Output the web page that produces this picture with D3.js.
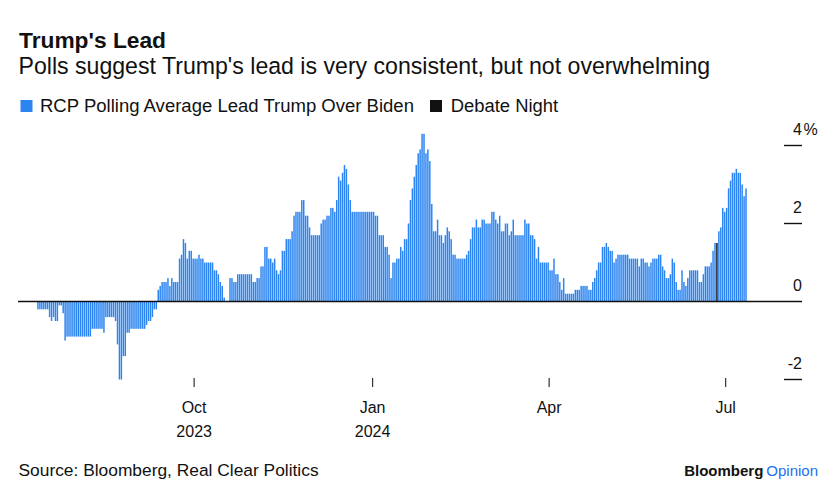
<!DOCTYPE html>
<html>
<head>
<meta charset="utf-8">
<script src="https://cdn.jsdelivr.net/npm/d3@7"></script>
<style>
  html, body { margin: 0; padding: 0; background: #fff; }
  svg { display: block; }
  text { font-family: "Liberation Sans", Arial, Helvetica, sans-serif; fill: #111; }
</style>
</head>
<body>
<svg id="chart" width="836" height="498"></svg>
<script>
// ---------------- DATA ----------------
const titleText = "Trump's Lead";
const subtitleText = "Polls suggest Trump's lead is very consistent, but not overwhelming";
const seriesName = "RCP Polling Average Lead Trump Over Biden";
const debateName = "Debate Night";
const sourceText = "Source: Bloomberg, Real Clear Politics";

// first day of the daily series
const startDate = "2023-07-12";
// RCP polling average lead, Trump over Biden (percentage points), one value per day
const leadValues = [
  -0.2,-0.2,-0.2,-0.2,-0.2,-0.2,-0.4,-0.5,-0.4,-0.5,
  -0.5,-0.1,-0.1,-0.3,-1.0,-0.9,-0.9,-0.9,-0.9,-0.9,
  -0.9,-0.9,-0.9,-0.9,-0.9,-0.9,-0.9,-0.9,-0.7,-0.7,
  -0.7,-0.7,-0.7,-0.7,-0.8,-0.4,-0.4,-0.4,-0.4,-0.4,
  -0.5,-1.1,-2.0,-2.0,-1.4,-1.4,-0.8,-0.8,-0.7,-0.7,
  -0.7,-0.7,-0.7,-0.7,-0.7,-0.7,-0.6,-0.5,-0.5,-0.4,
  -0.2,-0.2,0.3,0.4,0.5,0.5,0.5,0.6,0.4,0.6,
  0.5,0.5,0.5,1.1,1.2,1.6,1.5,1.1,1.3,1.3,
  1.1,1.1,1.1,1.2,1.1,1.1,1.0,1.0,1.0,1.0,
  1.0,0.8,0.8,0.7,0.5,0.4,0.1,0.0,0.0,0.6,
  0.6,0.5,0.5,0.7,0.7,0.7,0.7,0.7,0.7,0.7,
  0.7,0.5,0.5,0.6,0.6,0.9,0.9,1.4,1.4,1.1,
  1.1,1.0,1.1,0.8,0.7,0.8,1.3,1.3,1.6,1.6,
  1.6,1.8,2.2,2.3,2.3,2.3,2.6,2.6,2.2,2.2,
  1.9,1.7,1.7,1.7,1.7,1.7,2.0,2.1,2.1,2.2,
  2.2,2.4,2.4,2.3,2.6,3.2,3.1,3.3,3.5,3.4,
  3.0,2.6,2.3,2.3,2.3,2.3,2.3,2.3,2.3,2.3,
  2.3,2.3,2.3,2.3,2.2,2.2,1.7,1.7,1.7,1.4,
  1.4,1.2,0.6,1.0,1.0,1.1,1.1,1.4,1.3,1.6,
  1.6,2.0,2.6,2.9,3.2,3.5,3.8,3.9,4.3,4.3,
  3.8,3.9,3.6,2.5,1.8,1.8,2.1,1.7,1.7,1.5,
  1.7,1.9,1.8,1.6,1.2,1.2,1.1,1.1,1.1,1.1,
  1.1,1.2,1.3,1.6,1.9,1.9,2.1,1.9,1.9,2.1,
  2.1,2.0,2.0,2.0,2.3,2.3,2.1,2.0,2.2,1.8,
  1.8,2.0,2.0,1.7,1.8,2.1,1.7,1.7,1.7,1.7,
  1.7,2.1,2.0,2.0,1.7,1.7,1.6,1.1,1.4,1.0,
  1.0,1.0,1.0,1.0,0.8,0.8,1.1,0.7,0.7,0.5,
  0.3,0.6,0.2,0.2,0.2,0.2,0.2,0.3,0.3,0.3,
  0.4,0.4,0.4,0.4,0.3,0.3,0.5,0.6,0.8,1.0,
  1.0,1.4,1.4,1.5,1.4,1.3,1.3,1.0,1.1,1.2,
  1.2,1.2,1.2,1.2,1.2,1.1,1.1,1.1,1.1,1.1,
  0.9,1.1,1.1,1.0,1.0,0.9,1.0,1.1,1.1,1.1,
  1.2,1.2,0.9,0.8,0.6,0.6,0.7,1.1,1.0,0.5,
  0.3,0.3,0.8,0.5,0.4,0.6,0.8,0.8,0.8,0.8,
  0.8,0.5,0.5,0.7,0.9,0.9,0.9,1.0,1.3,1.5,
  1.5,1.8,1.9,2.4,2.3,2.4,2.9,3.1,3.3,3.3,
  3.4,3.3,3.3,3.0,2.7,2.9
];
const debateDate = "2024-06-26";

const yTickValues = [-2, 0, 2, 4];
const xTickDates = ["2023-10-01", "2024-01-01", "2024-04-01", "2024-07-01"];
const xTickLabels = [["Oct", "2023"], ["Jan", "2024"], ["Apr", ""], ["Jul", ""]];

// ---------------- STYLE ----------------
const BLUE = "#2b84f0";
const BLACK = "#111";

// ---------------- BUILD ----------------
const parse = d3.utcParse("%Y-%m-%d");
const start = parse(startDate);
const days = d3.utcDay.range(start, d3.utcDay.offset(start, leadValues.length));
const data = days.map((d, i) => ({ date: d, value: leadValues[i] }));
const debate = parse(debateDate);

const svg = d3.select("#chart");

const x = d3.scaleUtc()
  .domain([start, d3.utcDay.offset(start, leadValues.length)])
  .range([37, 747]);
const y = d3.scaleLinear().domain([-2, 4]).range([379.5, 145.5]);

const dayW = x(d3.utcDay.offset(start, 1)) - x(start);
const barW = dayW * 0.76;

function fitWidth(sel, w) {
  const n = sel.node();
  const cur = n.getComputedTextLength();
  const fs = parseFloat(sel.attr("font-size"));
  if (cur > 0) sel.attr("font-size", (fs * w / cur).toFixed(2));
  return sel;
}

// Title & subtitle
fitWidth(svg.append("text").attr("x", 19).attr("y", 47.5)
  .attr("font-size", 22).attr("font-weight", "bold").text(titleText), 147);
fitWidth(svg.append("text").attr("x", 18.5).attr("y", 74)
  .attr("font-size", 21).text(subtitleText), 692);

// Legend
svg.append("rect").attr("x", 20.5).attr("y", 100).attr("width", 12).attr("height", 12).attr("fill", BLUE);
fitWidth(svg.append("text").attr("x", 40).attr("y", 111.7)
  .attr("font-size", 16).text(seriesName), 374);
svg.append("rect").attr("x", 430).attr("y", 100).attr("width", 12).attr("height", 12).attr("fill", BLACK);
fitWidth(svg.append("text").attr("x", 450.7).attr("y", 111.7)
  .attr("font-size", 16).text(debateName), 107.5);

// Bars
svg.append("g").selectAll("rect")
  .data(data)
  .join("rect")
  .attr("x", d => x(d.date) + (dayW - barW) / 2)
  .attr("width", barW)
  .attr("y", d => y(Math.max(0, d.value)))
  .attr("height", d => Math.abs(y(d.value) - y(0)))
  .attr("fill", d => +d.date === +debate ? BLACK : BLUE);

// Zero line
svg.append("line")
  .attr("x1", 18).attr("x2", 802)
  .attr("y1", y(0)).attr("y2", y(0))
  .attr("stroke", BLACK).attr("stroke-width", 1.6);

// Y axis (right)
const yAxis = svg.append("g");
yTickValues.filter(v => v !== 0).forEach(v => {
  yAxis.append("line").attr("x1", 784).attr("x2", 802)
    .attr("y1", y(v)).attr("y2", y(v))
    .attr("stroke", BLACK).attr("stroke-width", 1.4);
});
yTickValues.forEach(v => {
  yAxis.append("text").attr("x", 802).attr("y", y(v) - 10.8)
    .attr("text-anchor", "end").attr("font-size", 16)
    .text(v);
  if (v === d3.max(yTickValues)) {
    yAxis.append("text").attr("x", 803.5).attr("y", y(v) - 10.8)
      .attr("font-size", 16).text("%");
  }
});

// X axis ticks
const xAxis = svg.append("g");
xTickDates.forEach((ds, i) => {
  const xv = x(parse(ds));
  xAxis.append("line").attr("x1", xv).attr("x2", xv)
    .attr("y1", 378).attr("y2", 387)
    .attr("stroke", "#333").attr("stroke-width", 1.2);
  xAxis.append("text").attr("x", xv).attr("y", 413)
    .attr("text-anchor", "middle").attr("font-size", 16).text(xTickLabels[i][0]);
  if (xTickLabels[i][1]) {
    xAxis.append("text").attr("x", xv).attr("y", 437)
      .attr("text-anchor", "middle").attr("font-size", 16).text(xTickLabels[i][1]);
  }
});

// Footer
fitWidth(svg.append("text").attr("x", 18.5).attr("y", 476)
  .attr("font-size", 16).text(sourceText), 300);
const brand = svg.append("text").attr("x", 818).attr("y", 476)
  .attr("text-anchor", "end").attr("font-size", 15)
  .style("font-family", "'Liberation Sans Narrow', 'Liberation Sans', Arial, sans-serif");
brand.append("tspan").attr("font-weight", "bold").text("Bloomberg");
brand.append("tspan").attr("dx", 3).style("fill", "#1d6ff2").text("Opinion");
</script>
</body>
</html>
